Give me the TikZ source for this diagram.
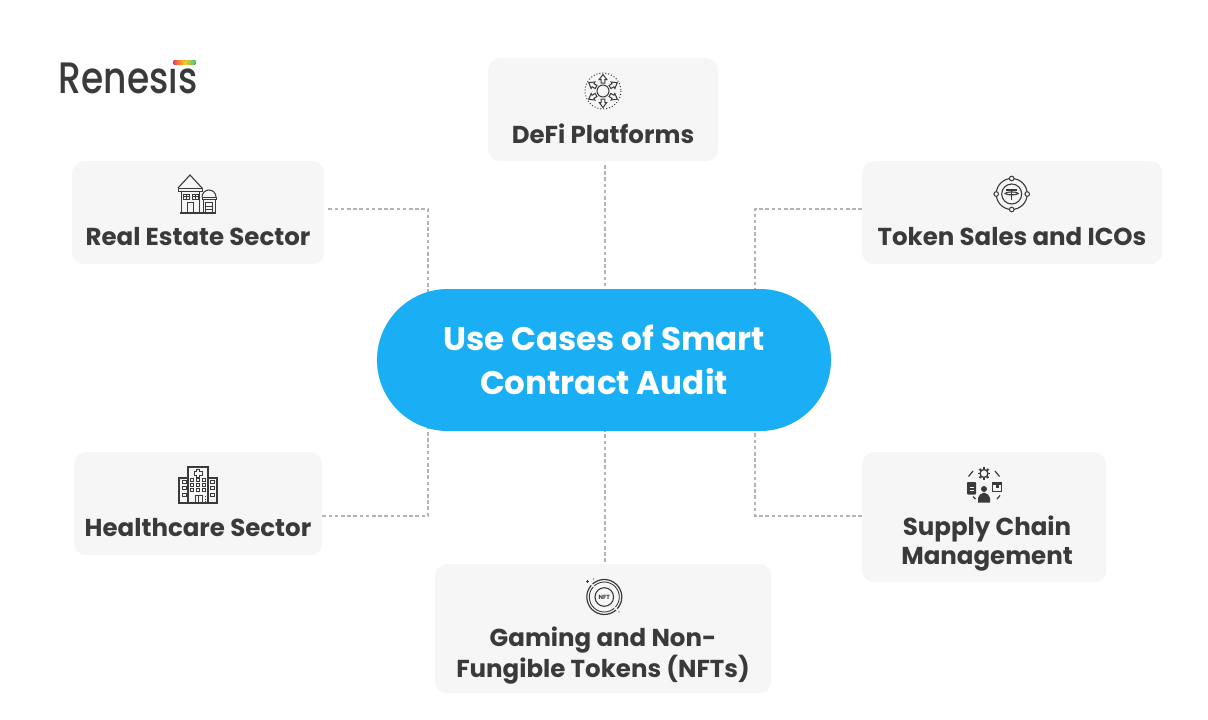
\documentclass[tikz,border=0pt]{standalone}
\usepackage{fontspec}
\setmainfont{Poppins}
\newfontfamily\labfont{Poppins}[UprightFont=* Bold]
\newfontfamily\logofont{Poppins Medium}
\usetikzlibrary{backgrounds,calc}
\definecolor{ink}{HTML}{3A3A3A}
\definecolor{panel}{HTML}{F6F6F6}
\definecolor{sky}{HTML}{1AAFF5}
\definecolor{dash}{HTML}{B4B4B4}
\definecolor{barL}{HTML}{F2385F}
\definecolor{barM}{HTML}{FFC81E}
\definecolor{barR}{HTML}{2FD07A}
\tikzset{
  x=1pt,y=-1pt,
  card/.style={fill=panel,rounded corners=12pt,inner sep=0pt,anchor=north west},
  cardtext/.style={text=ink,font=\labfont\fontsize{24.5}{29}\selectfont,align=center,inner sep=0pt},
  link/.style={draw=dash,line width=1.1pt,dash pattern=on 3.6pt off 2.6pt},
  glyph/.style={draw=ink,line width=1pt,fill=none},
}
\begin{document}
\begin{tikzpicture}
\begin{scope}[on background layer]
  \fill[white] (0,0) rectangle (1208,720);
\end{scope}
\useasboundingbox (0,0) rectangle (1208,720);

% wordmark; the gradient bar takes the place of the dot on the i
\node[text=ink,inner sep=0pt,anchor=center] (logo) at (128,77)
  {\scalebox{0.82}[1]{\logofont\fontsize{44}{44}\selectfont Renesis}};
\fill[white] (164,56) rectangle (198,66.5);
\begin{scope}
  \clip[rounded corners=2.5pt] (173,60) rectangle (196,65);
  \fill[left color=barL,right color=barM] (173,60) rectangle (184.6,65);
  \fill[left color=barM,right color=barR] (184.5,60) rectangle (196,65);
\end{scope}

% cards
\node[card,minimum width=230pt,minimum height=103pt] (defi) at (488,58) {};
\node[card,minimum width=252pt,minimum height=103pt] (estate) at (72,161) {};
\node[card,minimum width=300pt,minimum height=103pt] (token) at (862,161) {};
\node[card,minimum width=248pt,minimum height=103pt] (health) at (74,452) {};
\node[card,minimum width=244pt,minimum height=130pt] (supply) at (862,452) {};
\node[card,minimum width=336pt,minimum height=129pt] (nft) at (435,564) {};

% central pill
\node[fill=sky,rounded corners=71pt,minimum width=454pt,minimum height=142pt,inner sep=0pt,
      text=white,font=\labfont\fontsize{32.6}{44}\selectfont,align=center] (hub) at (604,360)
  {Use Cases of Smart\\Contract Audit};

% card labels
\node[cardtext] (tdefi) at (603,134) {DeFi Platforms};
\node[cardtext] (testate) at (198,237) {Real Estate Sector};
\node[cardtext] (ttoken) at (1012,237) {Token Sales and ICOs};
\node[cardtext] (thealth) at (198,528) {Healthcare Sector};
\node[cardtext] (tsupply) at (987,543.5) {Supply Chain\\Management};
\node[cardtext] (tnft) at (603,655.5) {Gaming and Non-\\Fungible Tokens (NFTs)};

% connectors
\coordinate (eleft) at (428,209);
\coordinate (eright) at (755,209);
\coordinate (hleft) at (428,516);
\coordinate (hright) at (755,516);
\begin{scope}[on background layer]
  \draw[link] (605,165) -- (605,360);
  \draw[link] (605,360) -- (605,564);
  \draw[link] (estate.east |- eleft) ++(4,0) -- (eleft) -- (eleft |- hub.center);
  \draw[link] (token.west |- eright) -- (eright) -- (eright |- hub.center);
  \draw[link] (health.east |- hleft) -- (hleft) -- (hleft |- hub.center);
  \draw[link] (supply.west |- hright) -- (hright) -- (hright |- hub.center);
\end{scope}

% DeFi icon: hub with six outward arrows
\begin{scope}[shift={(603,91)}]
  \draw[glyph,dotted,line width=1pt] (0,0) circle[radius=18];
  \draw[glyph] (0,0) circle[radius=6];
  \foreach \a in {0,60,120,180,240,300}
    \draw[glyph,rotate=\a] (-1.8,-8) -- (-1.8,-11.5) -- (-3.8,-11.5) -- (0,-16.5) -- (3.8,-11.5) -- (1.8,-11.5) -- (1.8,-8) -- cycle;
\end{scope}

% real estate icon
\begin{scope}
  \draw[glyph,line width=1.1pt] (178,188) -- (190,175) -- (202,188);
  \draw[glyph,fill=panel] (178,188) rectangle (202,191);
  \draw[glyph] (181,191) -- (181,213) -- (199,213) -- (199,191);
  \draw[glyph] (183,194) rectangle (189,199) (186,194) -- (186,199) (183,196.5) -- (189,196.5);
  \draw[glyph] (192,194) rectangle (198,199) (195,194) -- (195,199) (192,196.5) -- (198,196.5);
  \draw[glyph] (187,213) -- (187,202) -- (193,202) -- (193,213);
  \draw[glyph] (202,197) arc[start angle=180,end angle=360,radius=7];
  \draw[glyph] (202,197) rectangle (216,199.5);
  \draw[glyph] (203,199.5) -- (203,213) -- (215,213) -- (215,199.5);
  \draw[glyph] (205.5,213) -- (205.5,202.5) -- (212.5,202.5) -- (212.5,213);
  \draw[glyph] (205.5,206) -- (212.5,206) (205.5,209.5) -- (212.5,209.5);
  \draw[glyph,line width=1.2pt] (180,213) -- (216,213);
\end{scope}

% token icon
\begin{scope}[shift={(1011.7,194)}]
  \draw[glyph,line width=1.1pt] (0,0) circle[radius=15.5];
  \draw[glyph,line width=1.1pt] (0,0) circle[radius=10];
  \foreach \a in {0,90,180,270}
    \draw[glyph,fill=panel] (\a:15.5) circle[radius=2.3];
  \draw[glyph,line width=1.4pt] (-5.5,-4) -- (5.5,-4) (0,-4) -- (0,5.5);
  \draw[glyph,line width=1.1pt] (0,-0.6) ellipse[x radius=6.5,y radius=1.4];
\end{scope}

% hospital icon
\begin{scope}
  \draw[glyph,line width=1.2pt] (188,503) -- (188,467) -- (208,467) -- (208,503);
  \draw[glyph,line width=1.2pt] (188,478) -- (179,478) -- (179,503) -- (217,503) -- (217,478) -- (208,478);
  \draw[glyph] (196.2,469.5) -- (199.8,469.5) -- (199.8,471.7) -- (202,471.7) -- (202,475.3) -- (199.8,475.3) -- (199.8,477.5) -- (196.2,477.5) -- (196.2,475.3) -- (194,475.3) -- (194,471.7) -- (196.2,471.7) -- cycle;
  \foreach \px in {192,198,204}
    \foreach \py in {480,485,490}
      \draw[glyph] (\px-1.4,\py-1.3) rectangle (\px+1.4,\py+1.3);
  \foreach \px in {184,212}
    \foreach \py in {482,488,495}
      \draw[glyph] (\px-2,\py-1.8) rectangle (\px+2,\py+1.8);
  \draw[glyph] (195,503) -- (195,495) -- (202,495) -- (202,503) (198.5,495) -- (198.5,503);
  \foreach \py in {496,498.5,501}
    \fill[ink] (204.5,\py) rectangle (206,\py+1);
\end{scope}

% supply chain icon
\begin{scope}
  \foreach \a in {0,45,...,315}
    \draw[ink,line width=1.8pt] (984,473.5) ++(\a:3.8) -- ++(\a:2.4);
  \draw[glyph,line width=1.3pt] (984,473.5) circle[radius=4];
  \draw[ink,line width=1.2pt] (973,471) -- (968.5,476.5);
  \draw[ink,line width=1.2pt] (995,471) -- (999.5,476.5);
  \draw[ink,line width=1.2pt] (973,496.5) -- (975.5,499);
  \draw[ink,line width=1.2pt] (997,499) -- (1000,495.5);
  \fill[ink] (984,489) circle[radius=3];
  \fill[ink] (978,502.5) -- (978,498) .. controls (978,495) and (981,494) .. (984,492.5) .. controls (987,494) and (990,495) .. (990,498) -- (990,502.5) -- cycle;
  \fill[ink,rounded corners=0.8pt] (967,482) rectangle (976,494.5);
  \draw[panel,line width=1pt] (969.5,487) -- (973.5,487) (969.5,490) -- (973.5,490);
  \fill[ink] (992,482) rectangle (1002,491.5);
  \fill[panel] (993,485) rectangle (1001,490.5);
  \fill[ink] (996,485) rectangle (998.5,488);
\end{scope}

% NFT icon
\begin{scope}[shift={(604.3,597)}]
  \draw[glyph,line width=1.2pt] (0,0) circle[radius=17.5];
  \draw[glyph,line width=0.9pt] (0,0) circle[radius=15];
  \draw[glyph,line width=1.1pt] (0,0) circle[radius=9.3];
  \node[text=ink,inner sep=0pt,font=\labfont\fontsize{6}{6}\selectfont] (nfttag) at (0,0) {NFT};
  \draw[ink,line width=0.7pt] (-18,-16) -- (-15,-16) (-16.5,-17.5) -- (-16.5,-14.5);
  \fill[ink] (-10.5,-18) circle[radius=0.6];
  \fill[ink] (14.7,15) circle[radius=0.6];
  \draw[panel,line width=1.6pt] (45:14.5) -- (45:18.5) (225:14.5) -- (225:18.5);
\end{scope}
\end{tikzpicture}
\end{document}
